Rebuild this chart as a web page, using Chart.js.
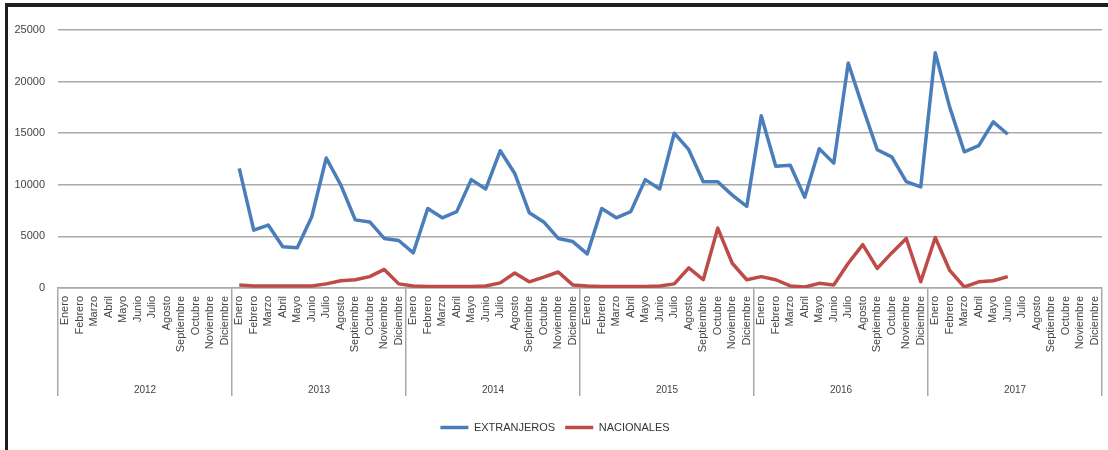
<!DOCTYPE html>
<html>
<head>
<meta charset="utf-8">
<script src="https://cdn.jsdelivr.net/npm/chart.js@4.4.1/dist/chart.umd.min.js"></script>
<style>
  html, body { margin: 0; padding: 0; background: #ffffff; }
  #wrap { position: relative; width: 1108px; height: 450px; overflow: hidden; background: #ffffff; }
  #c { position: absolute; left: 0; top: 0; }
  #frame { position: absolute; left: 5px; top: 3px; width: 1110px; height: 460px;
           border-top: 4px solid #1e1e1e; border-left: 3px solid #1e1e1e; pointer-events: none; }
</style>
</head>
<body>
<div id="wrap">
  <canvas id="c" width="1108" height="450"></canvas>
  <div id="frame"></div>
</div>
<script>
const MONTHS = ['Enero','Febrero','Marzo','Abril','Mayo','Junio','Julio','Agosto','Septiembre','Octubre','Noviembre','Diciembre'];
const YEARS = ['2012','2013','2014','2015','2016','2017'];
const Y_TICKS = [0, 5000, 10000, 15000, 20000, 25000];

// EXTRANJEROS by year (null = no data)
const EXT_2012 = [null,null,null,null,null,null,null,null,null,null,null,null];
const EXT_2013 = [11600, 5600, 6100, 4000, 3900, 6900, 12600, 10000, 6600, 6400, 4800, 4600];
const EXT_2014 = [3400, 7700, 6800, 7400, 10500, 9600, 13300, 11100, 7300, 6400, 4800, 4500];
const EXT_2015 = [3300, 7700, 6800, 7400, 10500, 9600, 15000, 13400, 10300, 10300, 9000, 7900];
const EXT_2016 = [16700, 11800, 11900, 8800, 13500, 12100, 21800, 17500, 13400, 12700, 10300, 9800];
const EXT_2017 = [22800, 17500, 13200, 13800, 16100, 14900, null, null, null, null, null, null];

// NACIONALES by year
const NAC_2012 = [null,null,null,null,null,null,null,null,null,null,null,null];
const NAC_2013 = [300, 200, 200, 200, 200, 200, 400, 700, 800, 1100, 1800, 400];
const NAC_2014 = [200, 150, 150, 150, 150, 200, 500, 1450, 600, 1050, 1550, 300];
const NAC_2015 = [200, 150, 150, 150, 150, 200, 400, 1950, 800, 5800, 2400, 800];
const NAC_2016 = [1100, 800, 200, 100, 450, 300, 2400, 4200, 1900, 3400, 4800, 600];
const NAC_2017 = [4900, 1700, 100, 600, 700, 1100, null, null, null, null, null, null];

const CATEGORIES = YEARS.flatMap(() => MONTHS);
const EXTRANJEROS = [].concat(EXT_2012, EXT_2013, EXT_2014, EXT_2015, EXT_2016, EXT_2017);
const NACIONALES = [].concat(NAC_2012, NAC_2013, NAC_2014, NAC_2015, NAC_2016, NAC_2017);

const NARROW = '"Liberation Sans Narrow", "Liberation Sans", Arial, sans-serif';
const GRID = '#a9a9a9';

new Chart(document.getElementById('c'), {
  type: 'line',
  data: {
    labels: CATEGORIES,
    datasets: [
      { label: 'EXTRANJEROS', data: EXTRANJEROS, borderColor: '#4a7ebb', backgroundColor: '#4a7ebb',
        borderWidth: 3.5, pointRadius: 0, pointHoverRadius: 0, tension: 0, borderJoinStyle: 'round', xAxisID: 'x' },
      { label: 'NACIONALES', data: NACIONALES, borderColor: '#be4b48', backgroundColor: '#be4b48',
        borderWidth: 3.5, pointRadius: 0, pointHoverRadius: 0, tension: 0, borderJoinStyle: 'round', xAxisID: 'x' }
    ]
  },
  options: {
    responsive: false,
    animation: false,
    devicePixelRatio: 1,
    layout: { padding: { top: 30, right: 6, left: 8, bottom: 7 } },
    plugins: {
      tooltip: { enabled: false },
      legend: {
        position: 'bottom',
        labels: {
          usePointStyle: true, pointStyle: 'line', pointStyleWidth: 28,
          font: { size: 11, family: NARROW }, color: '#333', padding: 10
        }
      }
    },
    scales: {
      x: {
        type: 'category',
        position: 'bottom',
        weight: 0,
        offset: true,
        grid: {
          display: true, drawOnChartArea: false, drawTicks: true, tickLength: 108, offset: true,
          lineWidth: 1.5,
          color: (c) => (c.index === undefined || c.index % 12 === 0) ? GRID : 'rgba(0,0,0,0)'
        },
        border: { display: true, color: GRID, width: 1.5 },
        ticks: {
          autoSkip: false, maxRotation: 90, minRotation: 90, padding: -100,
          font: { size: 11, family: NARROW }, color: '#444'
        },
        afterFit: (s) => { s.height = 92; }
      },
      x2: {
        type: 'category',
        labels: YEARS,
        position: 'bottom',
        weight: 1,
        offset: true,
        grid: { display: false },
        border: { display: false },
        ticks: { autoSkip: false, maxRotation: 0, padding: -4, font: { size: 10, family: NARROW }, color: '#444' },
        afterFit: (s) => { s.height = 32; }
      },
      y: {
        min: 0, max: 25000,
        afterBuildTicks: (s) => { s.ticks = Y_TICKS.map(v => ({ value: v })); },
        grid: { color: GRID, lineWidth: 1.5, drawTicks: false },
        border: { display: false },
        ticks: { padding: 13, font: { size: 11, family: NARROW }, color: '#444', callback: (v) => String(v) },
        afterFit: (s) => { s.width = 50; }
      }
    }
  }
});
</script>
</body>
</html>
